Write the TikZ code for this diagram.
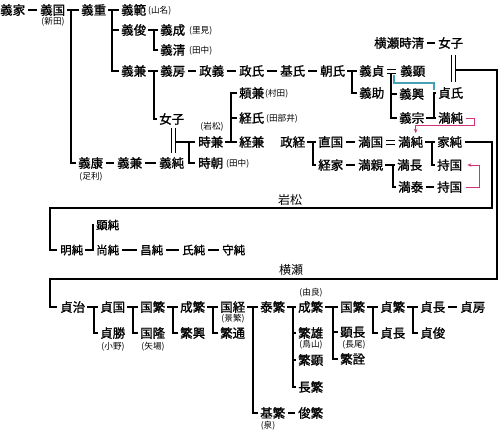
\documentclass[tikz,border=0pt]{standalone}
\usepackage{fontspec}
\newfontfamily\jp[FakeBold=1.2]{Noto Sans CJK JP}
\newfontfamily\jpl{Noto Sans CJK JP}
\usetikzlibrary{arrows.meta,calc}
\definecolor{pinkln}{RGB}{210,50,120}
\definecolor{tealln}{RGB}{70,160,180}
\newcommand{\parln}[2]{\draw[ln] ($(#1.east)+(2,0)$) -- ($(#2.west)+(-2,0)$);}
\newcommand{\kidln}[3][7]{\draw[ln] ($(#2.west)+(-#1,0)$) |- ($(#3.west)+(-2,0)$);}
\newcommand{\midln}[3][7]{\draw[ln] ($(#3.west)+(-#1,0)$) -- ($(#3.west)+(-2,0)$);}
\newcommand{\dashln}[2]{\draw[ln] ($(#1.east)+(3,0)$) -- ($(#2.west)+(-3,0)$);}
\begin{document}
\begin{tikzpicture}[x=1pt,y=-1pt,
  nm/.style={inner sep=0pt,anchor=west,text height=10.5pt,text depth=1pt,font=\jp\fontsize{12.5}{13}\selectfont},
  nms/.style={inner sep=0pt,anchor=west,text height=9.7pt,text depth=0.9pt,font=\jp\fontsize{11.5}{12}\selectfont},
  sm/.style={inner sep=0pt,font=\jpl\fontsize{8.6}{9}\selectfont},
  lbl/.style={inner sep=0pt,font=\jpl\fontsize{12}{13}\selectfont},
  ln/.style={line width=2.3pt},
  tn/.style={line width=0.9pt},
  pk/.style={pinkln,line width=0.9pt},
]
\useasboundingbox[fill=white] (0,0) rectangle (500,431);
% ---------- upper part ----------
\node[nm] (a1) at (0,10) {義家};
\node[nm] (a2) at (40,10) {義国};
\node[sm] (a2n) at (53,22) {(新田)};
\node[nm] (a3) at (81,10) {義重};
\node[nm] (a4) at (121,10) {義範};
\node[sm,anchor=west] (a4n) at (148,11) {(山名)};
\node[nm] (a5) at (121,30) {義俊};
\node[nm] (a6) at (160,30) {義成};
\node[sm,anchor=west] (a6n) at (189,31) {(里見)};
\node[nm] (a7) at (160,50) {義清};
\node[sm,anchor=west] (a7n) at (189,51) {(田中)};
\node[nm] (a8) at (121,71) {義兼};
\node[nm] (b1) at (160,71) {義房};
\node[nm] (b2) at (199,71) {政義};
\node[nm] (b3) at (239,71) {政氏};
\node[nm] (b4) at (280,71) {基氏};
\node[nm] (b5) at (320,71) {朝氏};
\node[nm] (b6) at (359,71) {義貞};
\node[nm] (b7) at (400,71) {義顕};
\node[nm] (b8) at (359,93) {義助};
\node[nm] (b9) at (399,94) {義興};
\node[nm] (b10) at (399,118) {義宗};
\node[nm] (c1) at (374,43) {横瀬時清};
\node[nm] (c2) at (438,43) {女子};
\node[nm] (c3) at (438,93) {貞氏};
\node[nm] (c4) at (438,118) {満純};
\node[nm] (d1) at (159,119) {女子};
\node[nm] (d2) at (78,163) {義康};
\node[sm] (d2n) at (91,177) {(足利)};
\node[nm] (d3) at (117,163) {義兼};
\node[nm] (d4) at (159,163) {義純};
\node[nm] (d5) at (239,93) {頼兼};
\node[sm,anchor=west] (d5n) at (265,94) {(村田)};
\node[nm] (d6) at (239,118) {経氏};
\node[sm,anchor=west] (d6n) at (266,119) {(田部井)};
\node[nm] (d7) at (198,142) {時兼};
\node[sm] (d7n) at (212,127) {(岩松)};
\node[nm] (d8) at (239,142) {経兼};
\node[nm] (d9) at (198,163) {時朝};
\node[sm,anchor=west] (d9n) at (226,164) {(田中)};
\node[nm] (e1) at (280,142) {政経};
\node[nm] (e2) at (318,142) {直国};
\node[nm] (e3) at (358,142) {満国};
\node[nm] (e4) at (398,142) {満純};
\node[nm] (e5) at (437,142) {家純};
\node[nm] (e6) at (318,165) {経家};
\node[nm] (e7) at (358,165) {満親};
\node[nm] (e8) at (397,165) {満長};
\node[nm] (e9) at (437,165) {持国};
\node[nm] (e10) at (398,187) {満泰};
\node[nm] (e11) at (437,187) {持国};
% ---------- Iwamatsu ----------
\node[lbl] (iw) at (290,200) {岩松};
\node[nms] (f1) at (60,250) {明純};
\node[nms] (f2) at (96,225) {顕純};
\node[nms] (f3) at (96,250) {尚純};
\node[nms] (f4) at (140,250) {昌純};
\node[nms] (f5) at (182,250) {氏純};
\node[nms] (f6) at (222,250) {守純};
% ---------- Yokose ----------
\node[lbl] (yk) at (291,270) {横瀬};
\node[nm] (g1) at (60,307) {貞治};
\node[nm] (g2) at (100,307) {貞国};
\node[nm] (g3) at (100,333) {貞勝};
\node[sm] (g3n) at (113,347) {(小野)};
\node[nm] (g4) at (140,307) {国繁};
\node[nm] (g5) at (140,333) {国隆};
\node[sm] (g5n) at (153,347) {(矢場)};
\node[nm] (g6) at (180,307) {成繁};
\node[nm] (g7) at (180,333) {繁興};
\node[nm] (g8) at (220,307) {国経};
\node[sm] (g8n) at (233,319) {(景繁)};
\node[nm] (g9) at (220,333) {繁通};
\node[nm] (g10) at (260,307) {泰繁};
\node[nm] (g11) at (260,413) {基繁};
\node[sm] (g11n) at (268,426) {(泉)};
\node[nm] (g12) at (298,413) {俊繁};
\node[nm] (g13) at (298,307) {成繁};
\node[sm] (g13n) at (311,293) {(由良)};
\node[nm] (g14) at (298,333) {繁雄};
\node[sm] (g14n) at (311,345) {(鳥山)};
\node[nm] (g15) at (298,360) {繁顕};
\node[nm] (g16) at (298,387) {長繁};
\node[nm] (g17) at (340,307) {国繁};
\node[nm] (g18) at (340,332) {顕長};
\node[sm] (g18n) at (354,345) {(長尾)};
\node[nm] (g19) at (340,359) {繁詮};
\node[nm] (g20) at (380,307) {貞繁};
\node[nm] (g21) at (380,333) {貞長};
\node[nm] (g22) at (420,307) {貞長};
\node[nm] (g23) at (420,333) {貞俊};
\node[nm] (g24) at (460,307) {貞房};
% ---------- coordinates for the long lines ----------
\coordinate (cR1) at (497,279);
\coordinate (cL1) at (50,279);
\coordinate (cR2) at (492,208);
\coordinate (cL2) at (50,208);
% ---------- connectors, upper ----------
\dashln{a1}{a2}
\parln{a2}{a3} \kidln[10]{a3}{d2}
\parln{a3}{a4} \kidln[9]{a4}{a8} \midln[9]{a4}{a5}
\parln{a5}{a6} \kidln[6]{a6}{a7}
\parln{a8}{b1} \kidln[6]{b1}{d1}
\dashln{b1}{b2} \dashln{b2}{b3} \dashln{b3}{b4} \dashln{b4}{b5}
\parln{b5}{b6} \kidln{b6}{b8}
% yoshisada = yoshiaki
\draw[tn] ($(b6.east)+(3,-2)$) -- ($(b7.west)+(-4,-2)$);
\draw[tn] ($(b6.east)+(3,2)$) -- ($(b7.west)+(-4,2)$);
\draw[ln] ($(b9.west |- b6.east)+(-8,2)$) |- ($(b10.west)+(-2,0)$);
\midln[8]{b9}{b9}
\draw[tealln,line width=1.3pt] ($(b9.west |- b6.east)+(-5,4)$) -- ($(b9.west |- b6.east)+(-5,12)$) -| ($(c3.west)+(-4,-3)$);
\parln{b10}{c4} \kidln[4]{c4}{c3}
\dashln{c1}{c2}
\draw[tn] ($(c2.south)+(0.5,6)$) -- ($(c3.north)+(0.5,-5)$);
\draw[tn] ($(c2.south)+(4.5,6)$) -- ($(c3.north)+(4.5,-5)$);
\draw[ln] ($(c2.south)+(4.5,21)$) -| (cR1) -- (cL1) |- ($(g1.west)+(-3,0)$);
\draw[pk,-{Stealth[length=4pt,width=3.5pt]}] ($(c4.east)+(3,0)$) -| ($(c4.east)+(11,7)$) -| ($(e4.north)+(5,-3)$);
% left column
\dashln{d2}{d3} \dashln{d3}{d4}
\draw[tn] ($(d1.south)+(-0.5,3)$) -- ($(d4.north)+(-0.5,-4)$);
\draw[tn] ($(d1.south)+(3.5,3)$) -- ($(d4.north)+(3.5,-4)$);
\draw[ln] ($(d1.south |- d7.west)+(3.5,0)$) -- ($(d7.west)+(-3,0)$);
\draw[ln] ($(d7.west)+(-9,0)$) |- ($(d9.west)+(-3,0)$);
\parln{d7}{d8} \kidln[8]{d8}{d5} \midln[8]{d8}{d6}
\parln{e1}{e2} \kidln[5]{e2}{e6}
\dashln{e2}{e3}
\draw[tn] ($(e3.east)+(3,-2)$) -- ($(e4.west)+(-3,-2)$);
\draw[tn] ($(e3.east)+(3,2)$) -- ($(e4.west)+(-3,2)$);
\parln{e4}{e5} \kidln[5]{e5}{e9}
\dashln{e6}{e7}
\parln{e7}{e8} \kidln[4]{e8}{e10}
\dashln{e10}{e11}
\draw[pk,-{Stealth[length=4pt,width=3.5pt]}] ($(e11.east)+(4,0)$) -| ($(e9.east)+(17,0)$) -- ($(e9.east)+(5,0)$);
\draw[ln] ($(e5.east)+(3,0)$) -| (cR2) -- (cL2) |- ($(f1.west)+(-3,0)$);
% ---------- Iwamatsu connectors ----------
\parln{f1}{f3} \kidln[3]{f3}{f2}
\dashln{f3}{f4} \dashln{f4}{f5} \dashln{f5}{f6}
% ---------- Yokose connectors ----------
\parln{g1}{g2} \kidln[6]{g2}{g3}
\parln{g2}{g4} \kidln{g4}{g5}
\parln{g4}{g6} \kidln{g6}{g7}
\parln{g6}{g8} \kidln{g8}{g9}
\parln{g8}{g10} \kidln{g10}{g11}
\parln{g10}{g13} \kidln[5]{g13}{g16} \midln[5]{g13}{g14} \midln[5]{g13}{g15}
\dashln{g11}{g12}
\parln{g13}{g17} \kidln{g17}{g19} \midln{g17}{g18}
\parln{g17}{g20} \kidln{g20}{g21}
\parln{g20}{g22} \kidln{g22}{g23}
\dashln{g22}{g24}
\end{tikzpicture}
\end{document}
